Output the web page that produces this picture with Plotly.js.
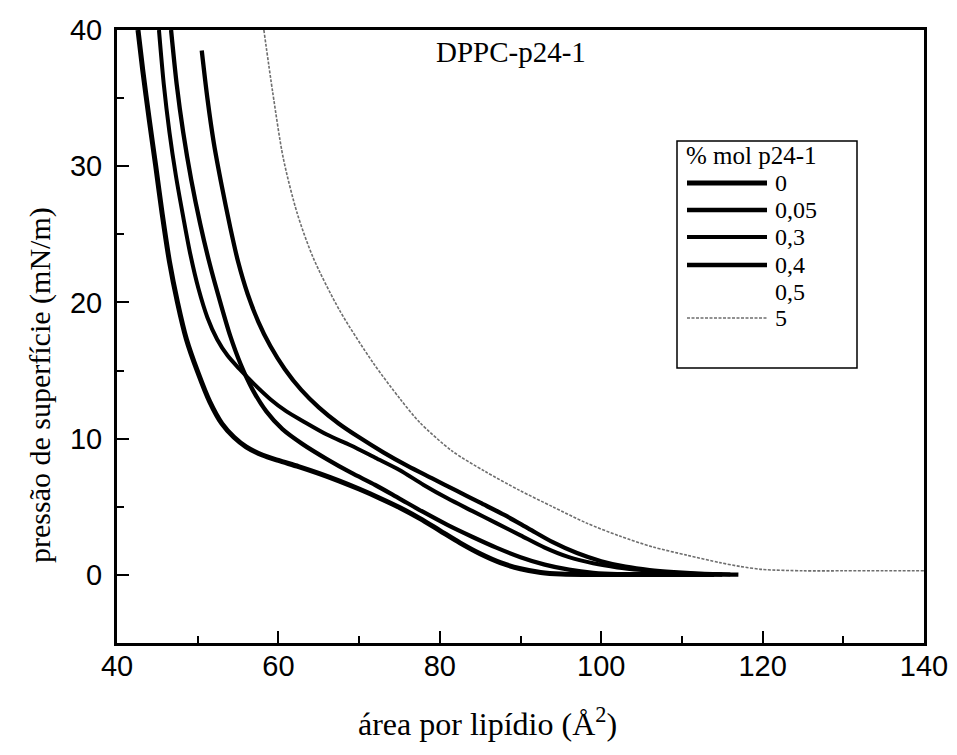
<!DOCTYPE html>
<html>
<head>
<meta charset="utf-8">
<script src="https://cdn.plot.ly/plotly-3.0.1.min.js"></script>
<style>html,body{margin:0;padding:0;background:#fff;}#chart{width:957px;height:755px;}</style>
</head>
<body>
<div id="chart"></div>
<script>
// Series names (legend labels, % mol p24-1)
const seriesNames = ["0", "0,05", "0,3", "0,4", "0,5", "5"];

// % mol p24-1 = 0
const x0 = [42.6, 43.2, 44.0, 44.8, 45.6, 46.5, 47.5, 48.6, 50.0, 51.5, 53.0, 54.5, 56.0, 58.0, 60.0, 62.5, 65.0, 67.5, 70.0, 72.5, 75.0, 77.5, 80.0, 82.5, 85.0, 87.5, 90.0, 92.5, 95.0, 100, 114];
const y0 = [40, 37.0, 33.4, 30.0, 26.5, 23.0, 20.0, 17.3, 14.9, 12.7, 11.1, 10.1, 9.4, 8.8, 8.4, 7.95, 7.45, 6.9, 6.3, 5.65, 4.95, 4.15, 3.25, 2.35, 1.55, 0.9, 0.45, 0.18, 0.06, 0.02, 0.02];

// % mol p24-1 = 0,05
const x005 = [46.7, 47.4, 48.2, 49.2, 50.3, 51.5, 52.8, 54.0, 55.3, 56.8, 58.5, 60.5, 63.0, 66.0, 69.0, 72.0, 75.0, 78.0, 81.0, 84.0, 87.0, 90.0, 93.0, 96.0, 99.0, 102.0, 115];
const y005 = [40, 36.0, 32.5, 29.0, 25.8, 22.8, 20.0, 17.6, 15.5, 13.6, 12.0, 10.7, 9.6, 8.5, 7.5, 6.6, 5.6, 4.6, 3.65, 2.8, 2.0, 1.3, 0.75, 0.38, 0.15, 0.05, 0.02];

// % mol p24-1 = 0,3
const x03 = [45.2, 45.8, 46.5, 47.3, 48.2, 49.1, 50.1, 51.2, 52.4, 53.7, 55.2, 57.0, 59.0, 61.0, 63.0, 66.0, 69.0, 72.0, 75.0, 78.0, 81.0, 84.0, 87.0, 90.0, 93.0, 96.0, 99.0, 102.0, 105.0, 108.0, 111.0, 116];
const y03 = [40, 36.0, 32.5, 29.3, 26.3, 23.5, 21.0, 18.9, 17.3, 16.1, 15.1, 14.0, 12.9, 12.0, 11.3, 10.3, 9.5, 8.6, 7.7, 6.6, 5.6, 4.7, 3.8, 2.9, 2.0, 1.3, 0.85, 0.55, 0.35, 0.2, 0.1, 0.02];

// % mol p24-1 = 0,4
const x04 = [50.5, 51.2, 52.0, 53.0, 54.0, 55.0, 56.2, 57.5, 59.0, 60.8, 62.8, 65.0, 67.5, 70.0, 73.0, 76.0, 79.0, 82.0, 85.0, 88.0, 91.0, 94.0, 97.0, 100.0, 103.0, 106.0, 109.0, 112.0, 117];
const y04 = [38.5, 35.0, 31.7, 28.5, 25.6, 23.0, 20.6, 18.6, 16.8, 15.1, 13.6, 12.3, 11.1, 10.1, 9.0, 8.0, 7.1, 6.2, 5.3, 4.4, 3.4, 2.4, 1.6, 1.0, 0.6, 0.35, 0.2, 0.1, 0.02];

// % mol p24-1 = 0,5 (no curve visible in the reference)
const x05 = [];
const y05 = [];

// % mol p24-1 = 5
const x5 = [58.2, 59.3, 60.6, 62.3, 64.3, 67.6, 71.7, 75.1, 77.5, 81.5, 85.6, 89.9, 94.0, 98.2, 102.3, 106.4, 110.6, 114.7, 117.2, 120, 125, 130, 135, 140];
const y5 = [40, 35.4, 30.6, 26.6, 23.3, 19.4, 15.6, 12.9, 11.2, 9.1, 7.6, 6.2, 5.0, 3.8, 2.85, 2.05, 1.45, 0.9, 0.62, 0.4, 0.3, 0.3, 0.3, 0.3];

const xTicks = [40, 60, 80, 100, 120, 140];
const yTicks = [0, 10, 20, 30, 40];

const xs = [x0, x005, x03, x04, x05, x5];
const ys = [y0, y005, y03, y04, y05, y5];
const styles = [
  {color: "#000", width: 5},
  {color: "#000", width: 4.3},
  {color: "#000", width: 4},
  {color: "#000", width: 4.3},
  {color: "rgba(255,255,255,0)", width: 2},
  {color: "#6e6e6e", width: 1.6, dash: "3px,1.5px"}
];

const traces = seriesNames.map((n, i) => ({
  type: "scatter",
  mode: "lines",
  name: n,
  x: xs[i],
  y: ys[i],
  showlegend: false,
  line: Object.assign({shape: "spline", smoothing: 0.8}, styles[i]),
  hoverinfo: "skip"
}));

const serif = "'Liberation Serif', 'Times New Roman', serif";
const sans = "'Liberation Sans', Arial, sans-serif";

// plot area in pixels
const M = {l: 117, r: 33, t: 30, b: 112};
const W = 957, H = 755;
const pw = W - M.l - M.r, ph = H - M.t - M.b;
const px = v => (v - M.l) / pw;
const py = v => (H - M.b - v) / ph;

// legend drawn by hand (long sample lines like the reference)
const legBox = {x0: 677, x1: 857, y0: 141, y1: 368};
const legRowY = [183, 210, 237, 265, 292, 318];
const legLineX = [687, 767];
const legTextX = 773;
const legFont = {family: serif, size: 24, color: "#000"};

const shapes = [{
  type: "rect", xref: "paper", yref: "paper",
  x0: px(legBox.x0), x1: px(legBox.x1), y0: py(legBox.y1), y1: py(legBox.y0),
  line: {color: "#000", width: 1.5}, fillcolor: "#fff", layer: "above"
}];
const annotations = [{
  xref: "paper", yref: "paper", x: px(684), y: py(155),
  xanchor: "left", yanchor: "middle", text: "% mol p24-1",
  showarrow: false, font: {family: serif, size: 25, color: "#000"}
}];
seriesNames.forEach((n, i) => {
  const st = styles[i];
  shapes.push({
    type: "line", xref: "paper", yref: "paper",
    x0: px(legLineX[0]), x1: px(legLineX[1]), y0: py(legRowY[i]), y1: py(legRowY[i]),
    line: {color: st.color, width: st.width, dash: st.dash || "solid"}, layer: "above"
  });
  annotations.push({
    xref: "paper", yref: "paper", x: px(legTextX), y: py(legRowY[i]),
    xanchor: "left", yanchor: "middle", text: n,
    showarrow: false, font: legFont
  });
});

annotations.push({
  xref: "paper", yref: "paper", x: px(511), y: py(52),
  xanchor: "center", yanchor: "middle", text: "DPPC-p24-1",
  showarrow: false, font: {family: serif, size: 29, color: "#000"}
});
annotations.push({
  xref: "paper", yref: "paper", x: px(487), y: py(722),
  xanchor: "center", yanchor: "middle", text: "área por lipídio (Å<sup>2</sup>)",
  showarrow: false, font: {family: serif, size: 32, color: "#000"}
});
annotations.push({
  xref: "paper", yref: "paper", x: px(40), y: py(385),
  xanchor: "center", yanchor: "middle", textangle: -90, text: "pressão de superfície (mN/m)",
  showarrow: false, font: {family: serif, size: 30, color: "#000"}
});

const axisCommon = {
  ticks: "inside",
  ticklen: 12,
  tickwidth: 2,
  tickcolor: "#000",
  showline: true,
  linecolor: "#000",
  linewidth: 3,
  mirror: true,
  showgrid: false,
  zeroline: false,
  tickfont: {family: sans, size: 29, color: "#000"}
};

const layout = {
  width: W,
  height: H,
  margin: M,
  paper_bgcolor: "#fff",
  plot_bgcolor: "#fff",
  showlegend: false,
  xaxis: Object.assign({}, axisCommon, {
    range: [40, 140],
    tickvals: xTicks,
    ticktext: xTicks.map(String),
    ticklabelstandoff: -5,
    minor: {dtick: 10, ticks: "inside", ticklen: 7, tickwidth: 2, tickcolor: "#000"}
  }),
  yaxis: Object.assign({}, axisCommon, {
    range: [-5, 40],
    tickvals: yTicks,
    ticktext: yTicks.map(String),
    ticklabelstandoff: 6,
    minor: {dtick: 5, ticks: "inside", ticklen: 7, tickwidth: 2, tickcolor: "#000"}
  }),
  shapes: shapes,
  annotations: annotations
};

Plotly.newPlot("chart", traces, layout, {displayModeBar: false, staticPlot: true});
</script>
</body>
</html>
